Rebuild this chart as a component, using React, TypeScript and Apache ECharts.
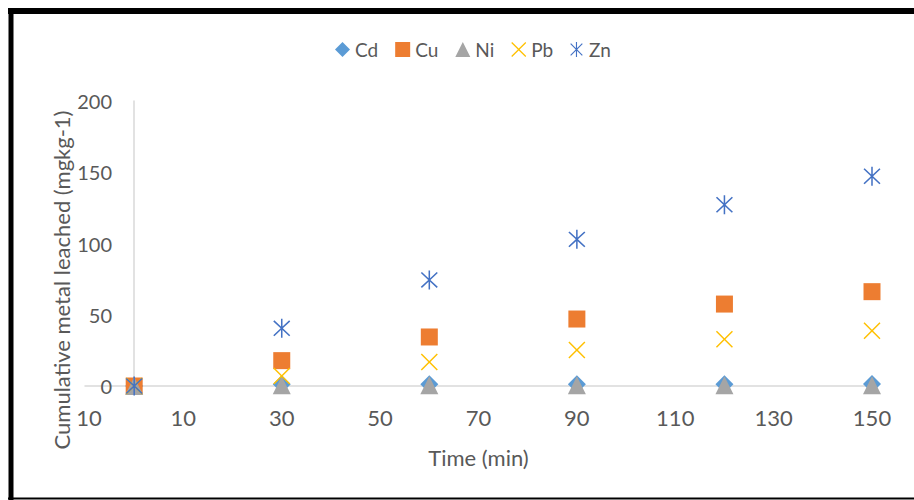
import React, { useEffect, useRef } from "react";
import * as echarts from "echarts";

const times = [0, 30, 60, 90, 120, 150];
const cd = [0, 1.2, 1.2, 1.2, 1.3, 1.4];
const cu = [0, 17.8, 34.4, 47, 57.5, 66.2];
const ni = [0, 0.5, 0.5, 0.6, 0.6, 0.6];
const pb = [0, 7, 16.8, 25.3, 32.8, 38.8];
const zn = [0, 40.5, 74.4, 102.9, 127.2, 147.2];

const seriesNames = ["Cd", "Cu", "Ni", "Pb", "Zn"];
const seriesColors = ["#5B9BD5", "#ED7D31", "#A5A5A5", "#FFC000", "#4472C4"];

const X_PATH =
  "path://M0,1.2 L1.2,0 L10,8.8 L18.8,0 L20,1.2 L11.2,10 L20,18.8 L18.8,20 L10,11.2 L1.2,20 L0,18.8 L8.8,10 Z";
const STAR_PATH =
  "path://M0,1.3 L1.3,0 L10,8.7 L18.7,0 L20,1.3 L11.3,10 L20,18.7 L18.7,20 L10,11.3 L1.3,20 L0,18.7 L8.7,10 Z M9.1,-2 L10.9,-2 L10.9,22 L9.1,22 Z";

const symbols = ["diamond", "rect", "triangle", X_PATH, STAR_PATH];
const sizes: any[] = [18, 17, 18, 17, [17, 19]];
const dataSets = [cd, cu, ni, pb, zn];

const FONT = "Lato, 'Open Sans', sans-serif";
const TXT = "#595959";

export default function App() {
  const ref = useRef<HTMLDivElement>(null);
  useEffect(() => {
    if (!ref.current) return;
    const chart = echarts.init(ref.current, null, { renderer: "svg" });
    chart.setOption({
      animation: false,
      backgroundColor: "#ffffff",
      textStyle: { fontFamily: FONT },
      legend: {
        top: 35,
        left: 330,
        itemWidth: 15,
        itemHeight: 15,
        itemGap: 17,
        textStyle: { fontSize: 19, color: TXT, fontFamily: FONT },
        data: seriesNames,
      },
      grid: { left: 85, right: 42, top: 101, bottom: 114, containLabel: false },
      xAxis: {
        type: "value",
        min: -10,
        max: 150,
        interval: 20,
        name: "Time (min)",
        nameLocation: "middle",
        nameGap: 60,
        nameTextStyle: { fontSize: 22, color: TXT, fontFamily: FONT },
        axisLine: { show: true, lineStyle: { color: "#D9D9D9", width: 1.5 } },
        axisTick: { show: false },
        splitLine: { show: false },
        axisLabel: {
          fontSize: 22,
          color: TXT,
          margin: 20,
          fontFamily: FONT,
          showMinLabel: true,
          showMaxLabel: true,
        },
      },
      yAxis: {
        type: "value",
        min: 0,
        max: 200,
        interval: 50,
        axisLine: { show: true, onZero: true, lineStyle: { color: "#D9D9D9", width: 1.5 } },
        axisTick: { show: false },
        splitLine: { show: false },
        axisLabel: {
          fontSize: 20,
          color: TXT,
          margin: -27,
          fontFamily: FONT,
          showMinLabel: true,
          showMaxLabel: true,
          hideOverlap: false,
        },
      },
      graphic: [
        {
          type: "text",
          z: 100,
          x: 61,
          y: 280,
          rotation: Math.PI / 2,
          style: {
            text: "Cumulative metal leached (mgkg-1)",
            fontSize: 22,
            fontFamily: FONT,
            fill: TXT,
            align: "center",
            verticalAlign: "middle",
            backgroundColor: "#ffffff",
            padding: [2, 0, 6, 0],
          },
        },
        {
          type: "line",
          z: 100,
          shape: { x1: 8, y1: 11, x2: 914, y2: 11 },
          style: { stroke: "#000000", lineWidth: 6 },
        },
        {
          type: "line",
          z: 100,
          shape: { x1: 11, y1: 8, x2: 11, y2: 500 },
          style: { stroke: "#000000", lineWidth: 5 },
        },
        {
          type: "line",
          z: 100,
          shape: { x1: 8, y1: 498.5, x2: 914, y2: 498.5 },
          style: { stroke: "#000000", lineWidth: 2 },
        },
      ],
      series: seriesNames.map((name, i) => ({
        name,
        type: "scatter",
        symbol: symbols[i],
        symbolSize: sizes[i],
        itemStyle: { color: seriesColors[i], opacity: 1 },
        data: times.map((t, j) => [t, dataSets[i][j]]),
      })),
    });
    return () => chart.dispose();
  }, []);
  return (
    <div
      ref={ref}
      style={{ position: "fixed", left: 0, top: 0, width: 914, height: 500, background: "#fff" }}
    />
  );
}
